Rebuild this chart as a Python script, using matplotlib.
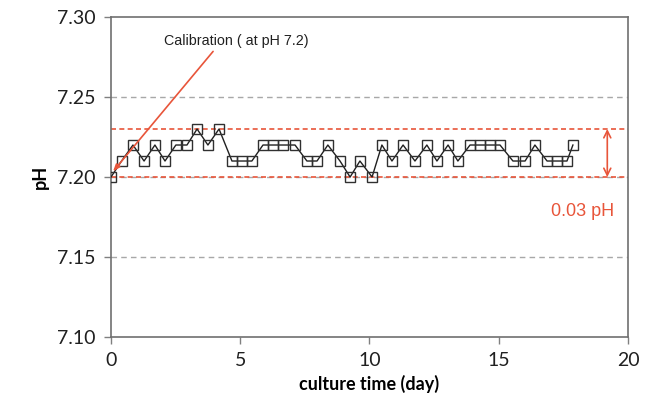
import matplotlib
matplotlib.use("Agg")
import matplotlib.pyplot as plt

# culture time (day) and measured pH
days = [0.0, 0.41, 0.85, 1.28, 1.70, 2.09, 2.51, 2.94, 3.33, 3.75, 4.18,
        4.68, 5.07, 5.45, 5.88, 6.27, 6.65, 7.12, 7.58, 7.97, 8.39, 8.86,
        9.25, 9.63, 10.10, 10.48, 10.87, 11.30, 11.76, 12.22, 12.61, 13.04,
        13.42, 13.89, 14.27, 14.66, 15.05, 15.55, 16.02, 16.40, 16.87, 17.25,
        17.64, 17.87]
ph = [7.20, 7.21, 7.22, 7.21, 7.22, 7.21, 7.22, 7.22, 7.23, 7.22, 7.23,
      7.21, 7.21, 7.21, 7.22, 7.22, 7.22, 7.22, 7.21, 7.21, 7.22, 7.21,
      7.20, 7.21, 7.20, 7.22, 7.21, 7.22, 7.21, 7.22, 7.21, 7.22,
      7.21, 7.22, 7.22, 7.22, 7.22, 7.21, 7.21, 7.22, 7.21, 7.21,
      7.21, 7.22]
grid_levels = [7.15, 7.20, 7.25]
band = [7.20, 7.23]
xticks = [0, 5, 10, 15, 20]
yticks = [7.10, 7.15, 7.20, 7.25, 7.30]

RED = "#e8553a"
lab_font = "Lato"

fig = plt.figure(figsize=(6.54, 4.17), dpi=100)
ax = fig.add_axes([0.1697, 0.1918, 0.7905, 0.7674])

for g in grid_levels:
    ax.axhline(g, color="#a8a8a8", lw=1.0, ls=(0, (4, 3)), zorder=1)
for b in band:
    ax.axhline(b, color=RED, lw=1.2, ls=(0, (3, 2)), zorder=2)

ax.plot(days, ph, "-", color="#202020", lw=1.0, marker="s", ms=7.3,
        mfc="none", mec="#303030", mew=1.0, zorder=3)

# calibration annotation
ax.text(4.85, 7.285, "Calibration ( at pH 7.2)", fontsize=10.3,
        family="Liberation Sans", color="#202020", ha="center", va="center")
ax.annotate("", xy=(0.08, 7.2035), xytext=(3.95, 7.2785),
            arrowprops=dict(arrowstyle="-|>,head_length=0.4,head_width=0.15",
                            color=RED, lw=1.2, shrinkA=0, shrinkB=0))

# 0.03 pH span arrow
ax.annotate("", xy=(19.2, band[0]), xytext=(19.2, band[1]),
            arrowprops=dict(arrowstyle="<->,head_length=0.5,head_width=0.25",
                            color=RED, lw=1.2, shrinkA=0, shrinkB=0))
ax.text(18.25, 7.1785, "0.03 pH", color=RED, fontsize=13,
        family="Liberation Sans", ha="center", va="center")

ax.set_xlim(0, 20)
ax.set_ylim(7.10, 7.30)
ax.set_xticks(xticks)
ax.set_yticks(yticks)
ax.set_xticklabels([str(t) for t in xticks], fontsize=14, family=lab_font,
                   color="#202020")
ax.set_yticklabels([f"{t:.2f}" for t in yticks], fontsize=14, family=lab_font,
                   color="#202020")
ax.tick_params(direction="out", length=5, color="#808080", width=1, pad=6)
for s in ax.spines.values():
    s.set_color("#707070")
    s.set_linewidth(1.2)

ax.set_xlabel("culture time (day)", fontsize=13, fontweight="bold",
              family=lab_font, labelpad=4)
ax.set_ylabel("pH", fontsize=13, fontweight="bold", family=lab_font, labelpad=6)

fig.savefig("out.png", dpi=100)
